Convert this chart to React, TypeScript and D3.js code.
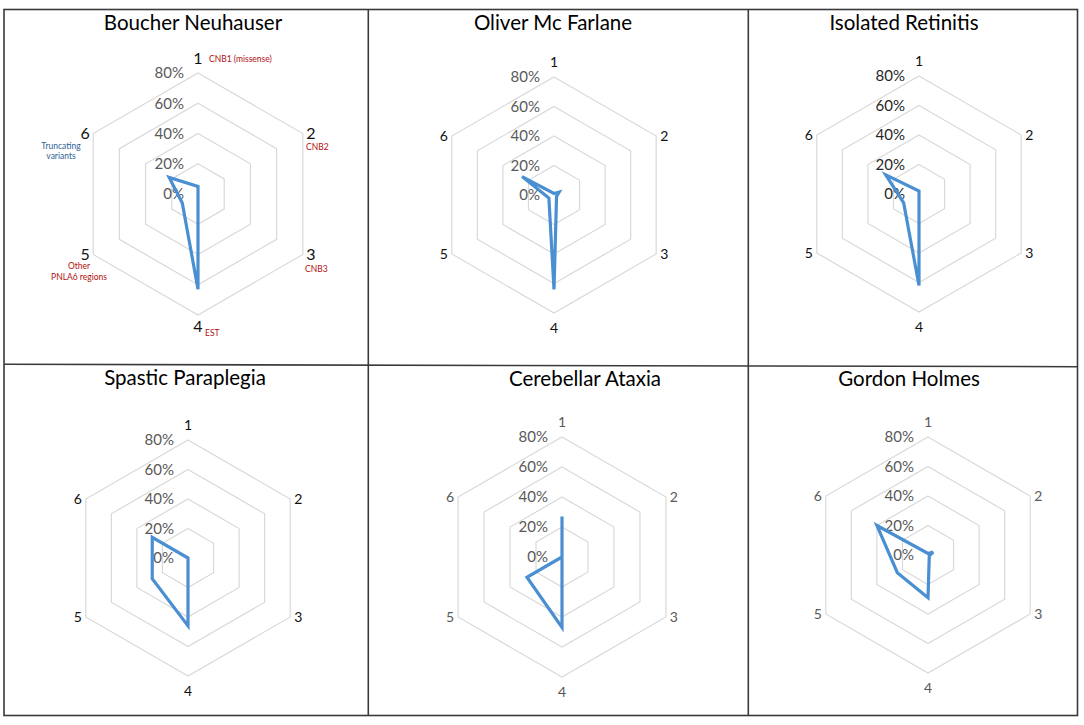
import React, { useEffect, useRef } from "react";
import * as d3 from "d3";

// axis labels (PNPLA6 domains, numbered 1..6)
const categories = ["1", "2", "3", "4", "5", "6"];
const ticks = [0, 20, 40, 60, 80];

const panelTitles = [
  "Boucher Neuhauser",
  "Oliver Mc Farlane",
  "Isolated Retinitis",
  "Spastic Paraplegia",
  "Cerebellar Ataxia",
  "Gordon Holmes",
];

// percentages per axis
const boucherValues = [5, 0, 0, 63, 12, 22];
const oliverValues = [1, 4, 2, 64, 4, 25];
const retinitisValues = [2, 0, 0, 62, 12, 26];
const spasticValues = [0, 0, 0, 46, 28, 28];
const ataxiaValues = [27, 0, 0, 47, 27, 0];
const gordonValues = [1, 4, 1, 29, 24, 40];

// domain names written next to axes in the first panel
const domainNotes = ["CNB1 (missense)", "CNB2", "CNB3", "EST", "Other PNLA6 regions", "Truncating variants"];

const seriesList = [boucherValues, oliverValues, retinitisValues, spasticValues, ataxiaValues, gordonValues];

interface PanelLayout {
  cx: number;
  cy: number;
  r: number;
  titleX: number;
  titleY: number;
  labelSize: number;
  labelColor: string;
  tickColor: string;
}

const layouts: PanelLayout[] = [
  { cx: 198, cy: 194, r: 121, titleX: 193, titleY: 30, labelSize: 16, labelColor: "#111", tickColor: "#595959" },
  { cx: 554, cy: 195, r: 118, titleX: 553, titleY: 30, labelSize: 14, labelColor: "#111", tickColor: "#595959" },
  { cx: 919, cy: 194, r: 118, titleX: 904, titleY: 30, labelSize: 14, labelColor: "#111", tickColor: "#262626" },
  { cx: 188, cy: 558, r: 118, titleX: 185, titleY: 385, labelSize: 14, labelColor: "#111", tickColor: "#595959" },
  { cx: 562, cy: 557, r: 120, titleX: 585, titleY: 386, labelSize: 14, labelColor: "#595959", tickColor: "#595959" },
  { cx: 928, cy: 555, r: 118, titleX: 909, titleY: 386, labelSize: 14, labelColor: "#595959", tickColor: "#595959" },
];

const FONT = "Lato, 'Open Sans', sans-serif";

const App: React.FC = () => {
  const svgRef = useRef<SVGSVGElement | null>(null);

  useEffect(() => {
    if (!svgRef.current) return;
    const svg = d3.select(svgRef.current);
    svg.selectAll("*").remove();

    svg.append("rect").attr("width", 1084).attr("height", 725).attr("fill", "#fff");

    // panel frame
    const frame = svg.append("g").attr("stroke", "#3a3a3a").attr("stroke-width", 1.6).attr("fill", "none");
    frame.append("rect").attr("x", 4).attr("y", 9.5).attr("width", 1073.5).attr("height", 706);
    frame.append("line").attr("x1", 4).attr("y1", 364.3).attr("x2", 1077.5).attr("y2", 366.7);
    frame.append("line").attr("x1", 368.3).attr("y1", 9.5).attr("x2", 368.3).attr("y2", 715.5);
    frame.append("line").attr("x1", 748.3).attr("y1", 9.5).attr("x2", 748.3).attr("y2", 715.5);

    const step = (2 * Math.PI) / categories.length;

    layouts.forEach((lay, p) => {
      const g = svg.append("g").attr("transform", `translate(${lay.cx},${lay.cy})`);
      const rScale = d3.scaleLinear().domain([0, 80]).range([0, lay.r]);

      const radial = d3
        .lineRadial<number>()
        .angle((_, i) => i * step)
        .curve(d3.curveLinearClosed);

      // hexagonal grid rings
      ticks.filter((t) => t > 0).forEach((t) => {
        g.append("path")
          .attr("d", radial.radius(() => rScale(t))(categories.map(() => t)) || "")
          .attr("fill", "none")
          .attr("stroke", "#d9d9d9")
          .attr("stroke-width", 1.2);
      });

      // tick labels up the first axis
      ticks.forEach((t) => {
        g.append("text")
          .attr("x", -14)
          .attr("y", -rScale(t))
          .attr("dy", "0.35em")
          .attr("text-anchor", "end")
          .attr("font-family", FONT)
          .attr("font-size", 15)
          .attr("fill", lay.tickColor)
          .text(`${t}%`);
      });

      // axis numbers
      categories.forEach((c, i) => {
        const a = i * step;
        const vx = Math.sin(a) * lay.r;
        const vy = -Math.cos(a) * lay.r;
        let dx = 0;
        let dy = 0;
        if (i === 0) dy = -15;
        else if (i === 3) dy = p === 0 ? 11 : 15;
        else dx = vx > 0 ? 8 : -8;
        g.append("text")
          .attr("x", vx + dx)
          .attr("y", vy + dy)
          .attr("dy", "0.35em")
          .attr("text-anchor", "middle")
          .attr("font-family", FONT)
          .attr("font-size", lay.labelSize)
          .attr("fill", lay.labelColor)
          .text(c);
      });

      // data polygon
      const values = seriesList[p];
      g.append("path")
        .attr("d", radial.radius((d) => rScale(d))(values) || "")
        .attr("fill", "none")
        .attr("stroke", "#4a8fd2")
        .attr("stroke-width", 3.2)
        .attr("stroke-linejoin", "miter");

      // title
      svg.append("text")
        .attr("x", lay.titleX)
        .attr("y", lay.titleY)
        .attr("text-anchor", "middle")
        .attr("font-family", FONT)
        .attr("font-size", 20.5)
        .attr("fill", "#000")
        .text(panelTitles[p]);
    });

    // domain notes on the Boucher Neuhauser panel
    const b = layouts[0];
    const notes = svg.append("g").attr("font-family", FONT).attr("font-size", 8.5);
    const red = "#b01010";
    notes.append("text").attr("x", b.cx + 11).attr("y", 62).attr("fill", red).text(domainNotes[0]);
    notes.append("text").attr("x", b.cx + 108).attr("y", 150).attr("fill", red).text(domainNotes[1]);
    notes.append("text").attr("x", b.cx + 107).attr("y", 272).attr("fill", red).text(domainNotes[2]);
    notes.append("text").attr("x", b.cx + 7).attr("y", 336).attr("fill", red).text(domainNotes[3]);
    const other = domainNotes[4].split(" ");
    notes.append("text").attr("x", 79).attr("y", 269).attr("text-anchor", "middle").attr("fill", red).text(other[0]);
    notes.append("text").attr("x", 79).attr("y", 280).attr("text-anchor", "middle").attr("fill", red).text(other.slice(1).join(" "));
    const trunc = domainNotes[5].split(" ");
    notes.append("text").attr("x", 61).attr("y", 149).attr("text-anchor", "middle").attr("fill", "#2f5f96").text(trunc[0]);
    notes.append("text").attr("x", 61).attr("y", 159).attr("text-anchor", "middle").attr("fill", "#2f5f96").text(trunc[1]);
  }, []);

  return (
    <svg
      ref={svgRef}
      width={1084}
      height={725}
      style={{ position: "absolute", left: 0, top: 0 }}
    />
  );
};

export default App;
